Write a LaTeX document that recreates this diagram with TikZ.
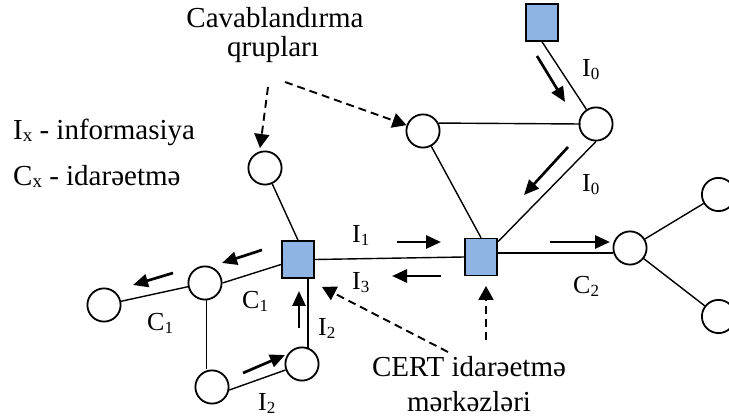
\documentclass[tikz,border=0pt]{standalone}
\usepackage{fontspec}
\setmainfont{Liberation Serif}
\usetikzlibrary{arrows.meta}
\definecolor{sqfill}{RGB}{142,180,227}
\newcommand\lbl[2]{#1\raisebox{-3pt}{\fontsize{17}{17}\selectfont #2}}
\newcommand\lgd[2]{#1\raisebox{-2pt}{\fontsize{19}{19}\selectfont #2}}
\begin{document}
\begin{tikzpicture}[x=1pt,y=-1pt,
  circ/.style={circle,draw,line width=1.8pt,minimum size=33.2pt,inner sep=0pt,fill=white},
  sq/.style={rectangle,draw,line width=1.6pt,fill=sqfill,minimum width=32.4pt,minimum height=37pt,inner sep=0pt},
  edge/.style={line width=1.4pt},
  arr/.style={line width=2.7pt,-{Triangle[length=15pt,width=13pt]}},
  darr/.style={line width=1.9pt,dash pattern=on 8pt off 5pt,-{Triangle[length=14pt,width=15pt]}},
  big/.style={inner sep=0pt,font=\fontsize{29}{29}\selectfont},
  lab/.style={inner sep=0pt,anchor=base west,font=\fontsize{26}{26}\selectfont}]
\useasboundingbox (0,0) rectangle (729,419);

% nodes
\node[sq] (sqTop) at (542,22.5) {};
\node[circ] (cTR) at (596,124) {};
\node[circ] (cTL) at (423,131) {};
\node[sq] (sqC) at (481,257) {};
\node[circ] (cR) at (630,248) {};
\node[circ] (cRU) at (718.5,194.5) {};
\node[circ] (cRL) at (718.5,316.5) {};
\node[sq] (sqL) at (298,259.5) {};
\node[circ] (cUL) at (265,168) {};
\node[circ] (cM) at (205,283) {};
\node[circ] (cFL) at (104,305) {};
\node[circ] (cB) at (212,387) {};
\node[circ] (cBR) at (302,364) {};

% edges
\draw[edge] (sqTop.south) -- (cTR);
\draw[edge] (cTL.27) -- ([xshift=2pt]cTR.west);
\draw[edge] (cTL) -- (sqC.north);
\draw[edge] (cTR.south) -- ([yshift=-4pt]sqC.north east);
\draw[edge] ([yshift=4pt]sqC.east) -- ([yshift=4pt]sqC.east -| cR.west);
\draw[edge] (cR) -- (cRU);
\draw[edge] (cR) -- (cRL);
\draw[edge] (sqL.east) -- (sqC.west);
\draw[edge] (cUL) -- (sqL.north);
\draw[edge] ([yshift=-5pt]sqL.west) -- (cM.east);
\draw[edge] (cM) -- (cFL);
\draw[edge] (cM.-85) -- (cM.-85 |- cB.north);
\draw[edge] (cB.-10) -- (cBR.200);
\draw[edge] (cBR.70) -- (cBR.70 |- sqL.south);

% text
\node[big,anchor=base] (cav1) at (275,28) {Cavablandırma};
\node[big,anchor=base] (cav2) at (273,57) {qrupları};
\node[big,anchor=base west] (lg1) at (13,140) {\lgd{I}{x} - informasiya};
\node[big,anchor=base west] (lg2) at (13,186) {\lgd{C}{x} - idarəetmə};
\node[big,anchor=base] (cert1) at (469,377) {CERT idarəetmə};
\node[big,anchor=base] (cert2) at (469,412) {mərkəzləri};

% labels
\node[lab] (lI0a) at (582,77) {\lbl{I}{0}};
\node[lab] (lI0b) at (582,192) {\lbl{I}{0}};
\node[lab] (lI1) at (352,243) {\lbl{I}{1}};
\node[lab] (lI3) at (352,290) {\lbl{I}{3}};
\node[lab] (lC1a) at (242,309) {\lbl{C}{1}};
\node[lab] (lC1b) at (147,331) {\lbl{C}{1}};
\node[lab] (lI2a) at (318,336) {\lbl{I}{2}};
\node[lab] (lI2b) at (258,411) {\lbl{I}{2}};
\node[lab] (lC2) at (573,294) {\lbl{C}{2}};

% flow arrows
\coordinate (a1s) at (537,56);  \coordinate (a1e) at (565,102);
\coordinate (a2s) at (568,147); \coordinate (a2e) at (524,195);
\coordinate (a3s) at (397,242); \coordinate (a3e) at (441,242);
\coordinate (a4s) at (441,276); \coordinate (a4e) at (392,276);
\coordinate (a5s) at (550,242); \coordinate (a5e) at (610,242);
\coordinate (a6s) at (262,250); \coordinate (a6e) at (222,263);
\coordinate (a7s) at (173,273); \coordinate (a7e) at (133,285);
\coordinate (a8s) at (299,328); \coordinate (a8e) at (299,291);
\coordinate (a9s) at (243,373); \coordinate (a9e) at (285,355);
\foreach \i in {1,...,9} \draw[arr] (a\i s) -- (a\i e);

% dashed pointers
\coordinate (d1s) at (268,87);  \coordinate (d1e) at (260,148);
\coordinate (d2s) at (285,82);
\coordinate (d3s) at (486,340); \coordinate (d3e) at (486,286);
\coordinate (d4s) at (448,352); \coordinate (d4e) at (322,287);
\draw[darr] (d1s) -- (d1e);
\draw[darr] (d2s) -- (cTL);
\draw[darr] (d3s) -- (d3e);
\draw[darr] (d4s) -- (d4e);
\end{tikzpicture}
\end{document}
